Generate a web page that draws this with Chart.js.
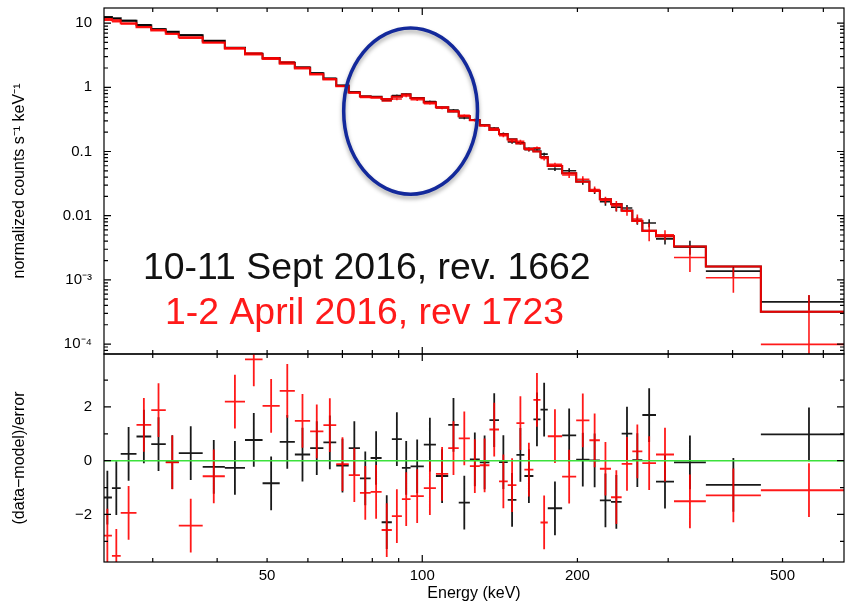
<!DOCTYPE html>
<html>
<head>
<meta charset="utf-8">
<script src="https://cdn.jsdelivr.net/npm/chart.js@4.4.0/dist/chart.umd.min.js"></script>
<style>
  body { margin: 0; background: #fff; }
  #wrap { position: relative; width: 845px; height: 604px; }
  canvas { position: absolute; left: 0; top: 0; }
</style>
</head>
<body>
<div id="wrap">
  <canvas id="topChart" width="845" height="604"></canvas>
  <canvas id="resChart" width="845" height="604"></canvas>
</div>
<script>
const FONT = "'Liberation Sans', Arial, Helvetica, sans-serif";

// energy bin edges (keV), shared by both observations
const edges = [24, 25, 26, 27.9, 29.8, 31.8, 33.7, 37.5, 41.4, 45.3, 49, 52.9, 56.6, 60.6, 64.3, 68.1,
  72, 75.7, 79.4, 83.4, 87.3, 91.3, 94.9, 100.7, 106.3, 112.3, 117.7, 123.7, 129.3, 135, 140.9,
  146.5, 152.3, 157.8, 164.3, 169.6, 175.2, 186.8, 198.9, 211, 221.1, 232.4, 243.7, 255.6, 267.3,
  284.1, 307.9, 355, 453.9, 697.6];

// folded model (counts s-1 keV-1)
const modelBlack = [12.5, 11.9, 10.9, 9.28, 8.04, 7.31, 6.49, 5.30, 4.13, 3.33, 2.86, 2.42, 2.04, 1.65,
  1.36, 1.07, 0.836, 0.725, 0.71, 0.66, 0.72, 0.78, 0.68, 0.585, 0.49, 0.42, 0.355, 0.31, 0.257, 0.218,
  0.187, 0.155, 0.134, 0.111, 0.1007, 0.082, 0.0596, 0.0459, 0.034, 0.0244, 0.0181, 0.0152, 0.012,
  0.00836, 0.00585, 0.0048, 0.0033, 0.00162, 0.000318];
const modelRed = [11.6, 11.1, 9.96, 8.63, 7.65, 6.80, 6.04, 4.99, 3.98, 3.25, 2.75, 2.33, 1.97, 1.59,
  1.32, 1.04, 0.83, 0.72, 0.70, 0.655, 0.715, 0.775, 0.675, 0.58, 0.487, 0.418, 0.353, 0.308, 0.255,
  0.217, 0.186, 0.154, 0.133, 0.110, 0.100, 0.0815, 0.0593, 0.0457, 0.0339, 0.0243, 0.018, 0.0151,
  0.0119, 0.0083, 0.00582, 0.00478, 0.0033, 0.00162, 0.000318];

// measured counts and 1-sigma errors
const countsBlack = [12.24, 11.72, 10.94, 9.41, 8.11, 7.30, 6.52, 5.28, 4.11, 3.37, 2.80, 2.46, 2.05,
  1.67, 1.38, 1.065, 0.846, 0.713, 0.712, 0.622, 0.743, 0.772, 0.674, 0.599, 0.479, 0.442, 0.333,
  0.311, 0.256, 0.231, 0.186, 0.141, 0.136, 0.107, 0.110, 0.091, 0.0533, 0.0502, 0.0341, 0.0244,
  0.0165, 0.0136, 0.0132, 0.0084, 0.0077, 0.00435, 0.00326, 0.00137, 0.000454];
const countsRed = [11.11, 10.51, 9.67, 8.80, 7.87, 6.79, 5.82, 4.95, 4.11, 3.43, 2.89, 2.48, 2.04,
  1.63, 1.36, 1.037, 0.819, 0.698, 0.68, 0.613, 0.656, 0.731, 0.639, 0.556, 0.477, 0.426, 0.365,
  0.306, 0.253, 0.227, 0.177, 0.146, 0.144, 0.108, 0.114, 0.0776, 0.0633, 0.043, 0.037, 0.0255,
  0.0175, 0.0143, 0.0118, 0.0089, 0.0058, 0.00503, 0.00223, 0.00108, 0.000099];
const errBlack = [0.19, 0.18, 0.16, 0.14, 0.12, 0.11, 0.10, 0.08, 0.06, 0.05, 0.07, 0.06, 0.05, 0.04,
  0.034, 0.027, 0.021, 0.018, 0.018, 0.017, 0.029, 0.031, 0.027, 0.023, 0.02, 0.017, 0.014, 0.012,
  0.01, 0.009, 0.011, 0.009, 0.008, 0.007, 0.006, 0.005, 0.0036, 0.0046, 0.0038, 0.0026, 0.0022,
  0.002, 0.0015, 0.0012, 0.0011, 0.0008, 0.0008, 0.00026, 0.00012];
const errRed = [0.18, 0.17, 0.15, 0.13, 0.11, 0.10, 0.09, 0.08, 0.06, 0.05, 0.07, 0.06, 0.05, 0.04,
  0.033, 0.026, 0.021, 0.018, 0.018, 0.017, 0.029, 0.031, 0.027, 0.023, 0.02, 0.017, 0.014, 0.012,
  0.01, 0.009, 0.011, 0.009, 0.008, 0.007, 0.006, 0.005, 0.0036, 0.0045, 0.004, 0.003, 0.0022,
  0.0026, 0.0018, 0.0015, 0.0018, 0.0009, 0.0009, 0.00045, 0.00048];

// (data-model)/error
const residBlack = [-1.37, -1.02, 0.25, 0.9, 0.62, -0.05, 0.28, -0.23, -0.27, 0.77, -0.84, 0.7, 0.23,
  0.47, 0.68, -0.18, 0.47, -0.66, 0.1, -2.29, 0.8, -0.27, -0.21, 0.6, -0.57, 1.33, -1.56, 0.05, -0.06,
  1.51, -0.05, -1.46, 0.22, -0.57, 1.54, 1.9, -1.77, 0.94, 0.04, 0.01, -1.48, -1.53, 1.01, 0.02, 1.7,
  -0.78, -0.06, -0.9, 0.98];
const residRed = [-2.79, -3.54, -1.94, 1.33, 1.88, -0.06, -2.42, -0.58, 2.2, 3.77, 2.04, 2.6, 1.48,
  1.09, 1.32, -0.13, -0.54, -1.2, -1.16, -2.58, -2.06, -1.43, -1.32, -1.02, -0.49, 0.47, 0.83, -0.2,
  -0.17, 1.16, -0.77, -0.91, 1.4, -0.33, 2.26, -2.3, 0.91, -0.59, 1.5, 0.76, -0.3, -1.36, -0.12, 0.35,
  -0.09, 0.23, -1.51, -1.29, -1.1];
const residErr = 1;

// axes
const xMin = 24.13, xMax = 658;
const topMin = 7.36e-5, topMax = 17.2;
const resMin = -3.77, resMax = 3.97;
const xTickValues = [50, 100, 200, 500];
const xTickLabels = ['50', '100', '200', '500'];
const xMajorTicks = [100];
const xMinorTicks = [30, 40, 50, 60, 70, 80, 90, 200, 300, 400, 500, 600];
const topTickValues = [1e-4, 1e-3, 0.01, 0.1, 1, 10];
const topTickLabels = ['10⁻⁴', '10⁻³', '0.01', '0.1', '1', '10'];
const resTickValues = [-2, 0, 2];
const resTickLabels = ['−2', '0', '2'];
const resMinorTicks = [-3, -1, 1, 3];

const topMinorTicks = [];
for (let e = -5; e <= 1; e++) {
  for (let k = 2; k <= 9; k++) {
    const v = k * Math.pow(10, e);
    if (v > topMin && v < topMax) topMinorTicks.push(v);
  }
}

function stepPoints(vals) {
  const pts = vals.map((v, i) => ({ x: edges[i], y: v }));
  pts.push({ x: edges[vals.length], y: vals[vals.length - 1] });
  return pts;
}

function crossPoints(vals, errs, floor) {
  const pts = [];
  vals.forEach((v, i) => {
    const lo = edges[i], hi = edges[i + 1], c = Math.sqrt(lo * hi);
    const e = typeof errs === 'number' ? errs : errs[i];
    pts.push({ x: lo, y: v }, { x: hi, y: v }, { x: hi, y: null },
      { x: c, y: Math.max(v - e, floor) }, { x: c, y: v + e }, { x: c, y: null });
  });
  return pts;
}

function framePlugin(yMajor, yMinor) {
  return {
    id: 'frameTicks',
    afterDatasetsDraw(chart) {
      const { ctx, chartArea: a } = chart;
      const xs = chart.scales.x, ys = chart.scales.y;
      ctx.save();
      ctx.strokeStyle = '#000';
      ctx.lineWidth = 1.2;
      ctx.beginPath();
      const xt = (list, len) => list.forEach(v => {
        const p = xs.getPixelForValue(v);
        ctx.moveTo(p, a.top); ctx.lineTo(p, a.top + len);
        ctx.moveTo(p, a.bottom); ctx.lineTo(p, a.bottom - len);
      });
      const yt = (list, len) => list.forEach(v => {
        const p = ys.getPixelForValue(v);
        ctx.moveTo(a.left, p); ctx.lineTo(a.left + len, p);
        ctx.moveTo(a.right, p); ctx.lineTo(a.right - len, p);
      });
      xt(xMajorTicks, 7); xt(xMinorTicks, 4);
      yt(yMajor, 7); yt(yMinor, 4);
      ctx.stroke();
      ctx.strokeRect(a.left, a.top, a.right - a.left, a.bottom - a.top);
      ctx.restore();
    }
  };
}

// circled feature and the two observation labels
const notes = {
  id: 'notes',
  afterDraw(chart) {
    const ctx = chart.ctx, xs = chart.scales.x, ys = chart.scales.y;
    const l = xs.getPixelForValue(70.4), r = xs.getPixelForValue(128);
    const t = ys.getPixelForValue(8.4), b = ys.getPixelForValue(0.0216);
    ctx.save();
    ctx.shadowColor = 'rgba(0,0,0,0.35)';
    ctx.shadowBlur = 4;
    ctx.shadowOffsetY = 3;
    ctx.strokeStyle = '#13299b';
    ctx.lineWidth = 3.5;
    ctx.beginPath();
    ctx.ellipse((l + r) / 2, (t + b) / 2, (r - l) / 2, (b - t) / 2, 0, 0, Math.PI * 2);
    ctx.stroke();
    ctx.restore();

    ctx.save();
    ctx.font = '37.4px ' + FONT;
    ctx.textAlign = 'left';
    ctx.textBaseline = 'alphabetic';
    ctx.fillStyle = '#111';
    ctx.fillText('10-11 Sept 2016, rev. 1662', 143, 279);
    ctx.fillStyle = '#ff1a1a';
    ctx.fillText('1-2 April 2016, rev 1723', 165, 324);
    ctx.restore();
  }
};

Chart.defaults.font.family = FONT;
Chart.defaults.color = '#000';

const tickFont = { family: FONT, size: 15 };
const titleFont = { family: FONT, size: 16 };
const RED = 'rgba(255,0,0,0.9)';
const BLACK = 'rgba(0,0,0,0.9)';

function lineSet(data, color, width, order, stepped) {
  return {
    data: data, borderColor: color, borderWidth: width, pointRadius: 0,
    stepped: stepped, spanGaps: false, fill: false, order: order,
    borderJoinStyle: 'miter', borderCapStyle: 'butt'
  };
}

function yAxis(min, max, type, values, labels, title) {
  return {
    type: type, min: min, max: max,
    grid: { display: false, drawTicks: false },
    border: { display: false },
    ticks: {
      font: tickFont, color: '#000', padding: 12, autoSkip: false,
      callback: (v, i) => labels[i]
    },
    afterBuildTicks: s => { s.ticks = values.map(v => ({ value: v })); },
    afterFit: s => { s.width = 104; s.paddingTop = 0; s.paddingBottom = 0; },
    title: { display: true, text: title, font: titleFont, color: '#000', padding: { top: 10, bottom: 0 } }
  };
}

new Chart(document.getElementById('topChart'), {
  type: 'line',
  data: {
    datasets: [
      lineSet(stepPoints(modelRed), RED, 2, 0, 'before'),
      lineSet(crossPoints(countsRed, errRed, topMin / 10), RED, 1.6, 1, false),
      lineSet(stepPoints(modelBlack), BLACK, 2, 2, 'before'),
      lineSet(crossPoints(countsBlack, errBlack, topMin / 10), BLACK, 1.6, 3, false)
    ]
  },
  options: {
    responsive: false,
    animation: false,
    layout: { padding: { left: 0, right: 1, top: 8, bottom: 250 } },
    plugins: { legend: { display: false }, tooltip: { enabled: false } },
    scales: {
      x: { type: 'logarithmic', min: xMin, max: xMax, display: false },
      y: yAxis(topMin, topMax, 'logarithmic', topTickValues, topTickLabels,
        'normalized counts s⁻¹ keV⁻¹')
    }
  },
  plugins: [framePlugin(topTickValues, topMinorTicks), notes]
});

new Chart(document.getElementById('resChart'), {
  type: 'line',
  data: {
    datasets: [
      lineSet([{ x: xMin, y: 0 }, { x: xMax, y: 0 }], 'rgb(60,225,60)', 1.5, 0, false),
      lineSet(crossPoints(residRed, residErr, -1e9), RED, 1.8, 1, false),
      lineSet(crossPoints(residBlack, residErr, -1e9), BLACK, 1.8, 2, false)
    ]
  },
  options: {
    responsive: false,
    animation: false,
    layout: { padding: { left: 0, right: 1, top: 354, bottom: 0 } },
    plugins: { legend: { display: false }, tooltip: { enabled: false } },
    scales: {
      x: {
        type: 'logarithmic', min: xMin, max: xMax, position: 'bottom',
        grid: { display: false, drawTicks: false },
        border: { display: false },
        ticks: {
          font: tickFont, color: '#000', padding: 5, autoSkip: false, maxRotation: 0,
          callback: (v, i) => xTickLabels[i]
        },
        afterBuildTicks: s => { s.ticks = xTickValues.map(v => ({ value: v })); },
        afterFit: s => { s.height = 42; s.paddingLeft = 0; s.paddingRight = 0; },
        title: { display: true, text: 'Energy (keV)', font: titleFont, color: '#000', padding: { top: 0, bottom: 1 } }
      },
      y: yAxis(resMin, resMax, 'linear', resTickValues, resTickLabels, '(data−model)/error')
    }
  },
  plugins: [framePlugin(resTickValues, resMinorTicks)]
});
</script>
</body>
</html>
